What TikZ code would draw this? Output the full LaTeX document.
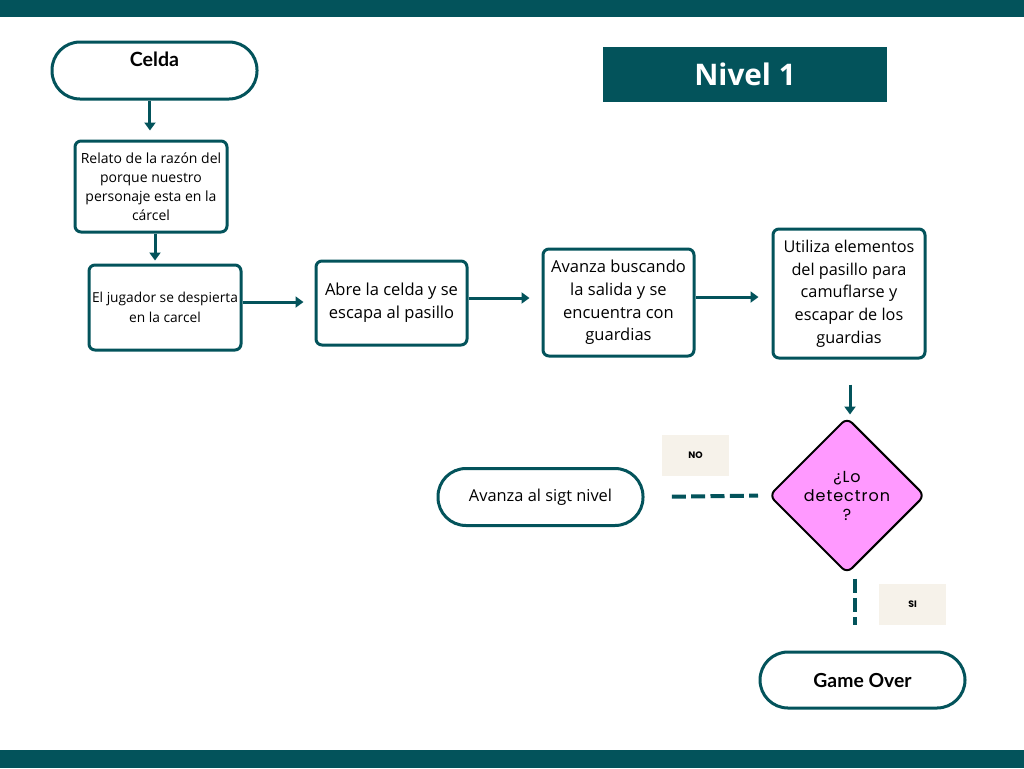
\documentclass[tikz,border=0pt]{standalone}
\usepackage{fontspec}
\setmainfont{Open Sans}
\newfontfamily\latofont{Lato}
\newfontfamily\popfont[LetterSpace=6]{Poppins}
\newfontfamily\tagfont{Poppins}
\usetikzlibrary{shapes.geometric,arrows.meta}
\definecolor{petrol}{HTML}{03535B}
\definecolor{orchid}{HTML}{FF99FF}
\definecolor{sand}{HTML}{F6F2EA}
\newlength\pxu
\setlength\pxu{0.75pt}

\begin{document}
\begin{tikzpicture}[x=0.75pt,y=-0.75pt,
    box/.style={draw=petrol,line width=2.25pt,fill=white,rounded corners=6\pxu,align=center,inner sep=1pt},
    pill/.style={draw=petrol,line width=2.25pt,fill=white,rounded corners=28\pxu,minimum width=205\pxu,minimum height=57\pxu,align=center},
    question/.style={diamond,aspect=1,draw=black,line width=1.5pt,fill=orchid,rounded corners=7\pxu,minimum width=156\pxu,minimum height=156\pxu,inner sep=0pt,align=center,font=\popfont\fontsize{12}{14.25}\selectfont},
    tag/.style={fill=sand,minimum width=67\pxu,minimum height=41\pxu,font=\tagfont\bfseries\fontsize{7}{8}\selectfont},
    arr/.style={-{Triangle[width=8.25pt,length=6pt]},line width=2.25pt,petrol},
    dashline/.style={petrol,line width=3pt,dash pattern=on 10.5pt off 4pt}]
  \useasboundingbox[fill=white] (0,0) rectangle (1024,768);
  \fill[petrol] (0,0) rectangle (1024,17);
  \fill[petrol] (0,750) rectangle (1024,768);
  % title
  \node[fill=petrol,text=white,minimum width=284\pxu,minimum height=55\pxu,font=\bfseries\fontsize{22.3}{25}\selectfont] (nivel) at (745,74.5) {Nivel 1};
  % left column
  \node[pill,text depth=17pt,font=\latofont\bfseries\fontsize{14.7}{16}\selectfont] (celda) at (154.5,70.5) {Celda};
  \node[box,minimum width=152\pxu,minimum height=91\pxu,font=\fontsize{10.5}{14.3}\selectfont] (relato) at (151,186.5) {Relato de la razón del\\porque nuestro\\personaje esta en la\\cárcel};
  \node[box,minimum width=152\pxu,minimum height=85\pxu,font=\fontsize{10.3}{15}\selectfont] (jugador) at (165,307.5) {El jugador se despierta\\en la carcel};
  % middle row
  \node[box,minimum width=151\pxu,minimum height=84\pxu,font=\fontsize{12.4}{17}\selectfont] (abre) at (391.5,303) {Abre la celda y se\\escapa al pasillo};
  \node[box,minimum width=151\pxu,minimum height=107\pxu,font=\fontsize{12.4}{17}\selectfont] (avanza) at (618.5,302.5) {Avanza buscando\\la salida y se\\encuentra con\\guardias};
  \node[box,minimum width=152\pxu,minimum height=129\pxu,font=\fontsize{12.2}{17}\selectfont] (utiliza) at (849,293.5) {Utiliza elementos\\del pasillo para\\camuflarse y\\escapar de los\\guardias};
  % decision
  \node[question] (detect) at (847,495.5) {¿Lo\\detectron\\?};
  \node[pill,font=\fontsize{12.3}{14}\selectfont] (sigt) at (540.5,497) {Avanza al sigt nivel};
  \node[pill,minimum height=56\pxu,font=\latofont\bfseries\fontsize{14.5}{16}\selectfont] (gameover) at (862.5,680) {Game Over};
  \node[tag] (no) at (695.5,455.5) {NO};
  \node[tag] (si) at (912.5,604.5) {SI};
  % connectors
  \draw[arr,shorten >=6.75pt] ([xshift=-3.4pt]celda.south) -- ([xshift=-3.4pt]celda.south |- relato.north);
  \draw[arr,shorten >=2.25pt] ([xshift=3pt]relato.south) -- ([xshift=3pt]relato.south |- jugador.north);
  \draw[arr,shorten >=8.25pt] ([yshift=4.1pt]jugador.east) -- ([yshift=4.1pt]jugador.east -| abre.west);
  \draw[arr,shorten >=9pt] ([yshift=3.75pt]abre.east) -- ([yshift=3.75pt]abre.east -| avanza.west);
  \draw[arr,shorten >=9.75pt] ([yshift=4.1pt]avanza.east) -- ([yshift=4.1pt]avanza.east -| utiliza.west);
  \draw[arr,shorten <=18.75pt,shorten >=1.5pt] ([xshift=0.75pt]utiliza.south) -- ([xshift=0.75pt]utiliza.south |- detect.north);
  \draw[dashline,shorten <=20.5pt,shorten >=7.5pt] (sigt.east) -- (detect.west);
  \draw[dashline,shorten <=3pt,shorten >=19.5pt] ([xshift=6pt]detect.south) -- ([xshift=6pt]detect.south |- gameover.north);
\end{tikzpicture}
\end{document}
